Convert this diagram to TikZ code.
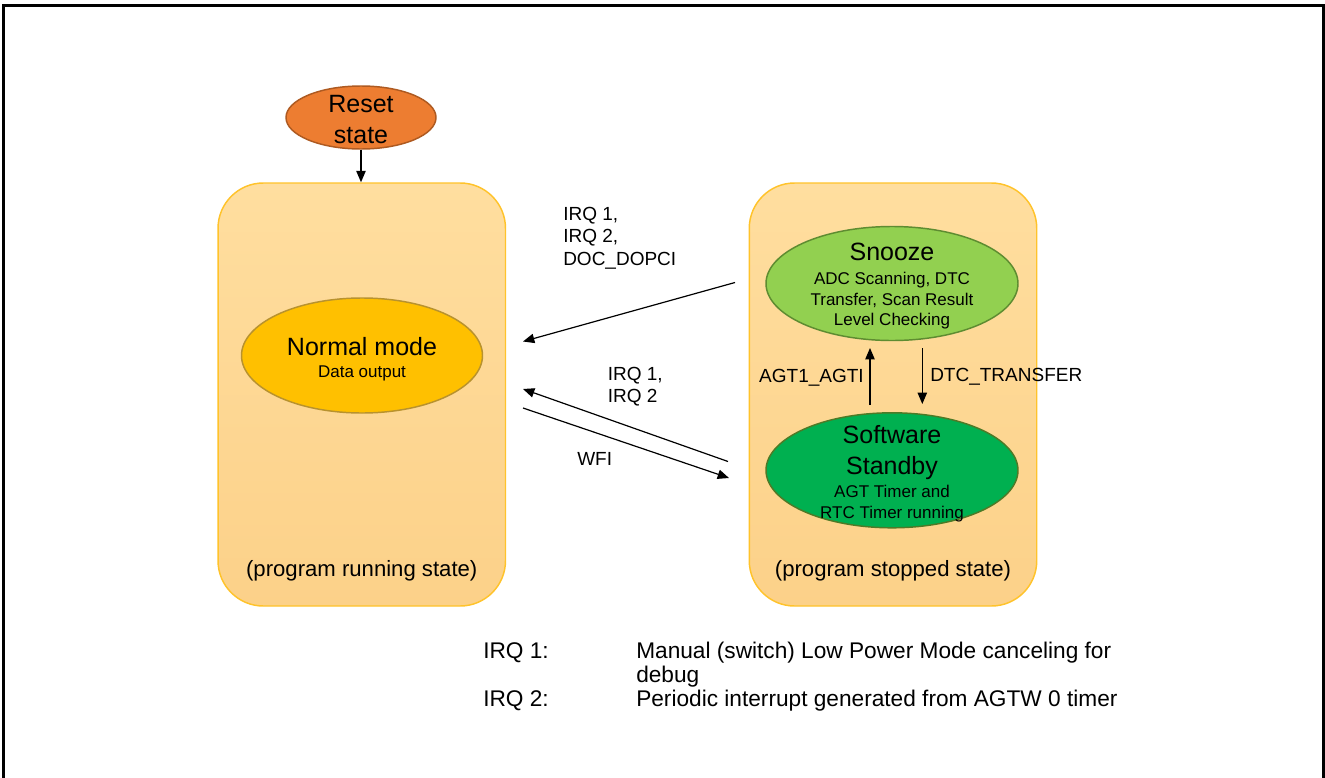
\documentclass[tikz,border=0pt]{standalone}
\usepackage{fontspec}
\setmainfont{Liberation Sans}
\usetikzlibrary{shapes.geometric,arrows.meta}
\definecolor{boxtop}{HTML}{FFDE9F}
\definecolor{boxbot}{HTML}{FCD189}
\definecolor{boxline}{HTML}{FFC32B}
\definecolor{resetfill}{HTML}{ED7D31}
\definecolor{resetline}{HTML}{AE5A21}
\definecolor{normfill}{HTML}{FFC000}
\definecolor{normline}{HTML}{B8922E}
\definecolor{snzfill}{HTML}{92D050}
\definecolor{snzline}{HTML}{5E8C31}
\definecolor{sbyfill}{HTML}{00B050}
\definecolor{sbyline}{HTML}{4E7A27}
\begin{document}
\begin{tikzpicture}[x=0.75pt,y=-0.75pt,
  statebox/.style={rectangle,rounded corners=34pt,minimum width=215.6pt,minimum height=317.25pt,inner sep=0pt,draw=boxline,line width=1.1pt,top color=boxtop,bottom color=boxbot},
  oval/.style={ellipse,inner sep=0pt,line width=1.1pt},
  txt/.style={inner sep=0pt,anchor=base},
  ttl/.style={txt,font=\fontsize{18.75pt}{23pt}\selectfont},
  sub/.style={txt,font=\fontsize{12.75pt}{15pt}\selectfont},
  lbl/.style={txt,font=\fontsize{14.25pt}{17pt}\selectfont},
  stt/.style={txt,font=\fontsize{16.6pt}{19pt}\selectfont},
  leg/.style={txt,anchor=base west,font=\fontsize{17pt}{19pt}\selectfont},
  arr/.style={-{Triangle[length=8.5pt,width=7pt]},line width=0.9pt,black}
]
\useasboundingbox (0,0) rectangle (1325,778);
\fill[white] (0,0) rectangle (1325,778);
\draw[line width=1.6pt] (3.5,778) -- (3.5,5.5) -- (1323.5,5.5) -- (1323.5,778);

% state containers
\node[statebox] (run) at (361.75,394.5) {};
\node[statebox] (stop) at (893,394.5) {};

% ellipses
\node[oval,fill=resetfill,draw=resetline,minimum width=112.5pt,minimum height=47.25pt] (reset) at (361,117.5) {};
\node[oval,fill=normfill,draw=normline,minimum width=180.75pt,minimum height=86.25pt] (normal) at (362,355.5) {};
\node[oval,fill=snzfill,draw=snzline,minimum width=189pt,minimum height=85.5pt] (snooze) at (892,283.5) {};
\node[oval,fill=sbyfill,draw=sbyline,minimum width=189pt,minimum height=86.25pt] (standby) at (892,470.3) {};

% texts in ellipses
\node[ttl] (resetA) at (361,112) {Reset};
\node[ttl] (resetB) at (361,143) {state};
\node[ttl] (normA) at (362,355.5) {Normal mode};
\node[sub] (normB) at (362,377.5) {Data output};
\node[ttl] (snzA) at (892,260.5) {Snooze};
\node[sub] (snzB) at (892,284.5) {ADC Scanning, DTC};
\node[sub] (snzC) at (892,305) {Transfer, Scan Result};
\node[sub] (snzD) at (892,325.5) {Level Checking};
\node[ttl] (sbyA) at (892,443) {Software};
\node[ttl] (sbyB) at (892,474) {Standby};
\node[sub] (sbyC) at (892,497) {AGT Timer and};
\node[sub] (sbyD) at (892,518) {RTC Timer running};

\node[stt] (runT) at (361.75,576) {(program running state)};
\node[stt] (stopT) at (893,576) {(program stopped state)};

% connector end points
\coordinate (a1s) at (735,282.5);
\coordinate (a1e) at (523,341.5);
\coordinate (a2s) at (728,461.5);
\coordinate (a2e) at (523,389);
\coordinate (a3s) at (523,408);
\coordinate (a3e) at (729,478);
\coordinate (agts) at (870,405);
\coordinate (agte) at (870,348);
\coordinate (dtcs) at (922.3,348);
\coordinate (dtce) at (922.3,404);

% connectors
\draw[arr] (reset.south) -- (reset.south |- run.north);
\draw[arr] (a1s) -- (a1e);
\draw[arr] (a2s) -- (a2e);
\draw[arr] (a3s) -- (a3e);
\draw[arr] (agts) -- (agte);
\draw[arr] (dtcs) -- (dtce);

% connector labels
\node[lbl,anchor=base west] (l1a) at (563,220) {IRQ 1,};
\node[lbl,anchor=base west] (l1b) at (563,242.5) {IRQ 2,};
\node[lbl,anchor=base west] (l1c) at (563,265) {DOC\_DOPCI};
\node[lbl,anchor=base west] (l2a) at (607.5,380) {IRQ 1,};
\node[lbl,anchor=base west] (l2b) at (607.5,402) {IRQ 2};
\node[lbl,anchor=base west] (l3) at (577,465) {WFI};
\node[lbl,anchor=base east] (lagt) at (864,382.5) {AGT1\_AGTI};
\node[lbl,anchor=base west] (ldtc) at (930,381.5) {DTC\_TRANSFER};

% legend
\node[leg] (g1) at (483,658) {IRQ 1:};
\node[leg] (g1t) at (636,658) {Manual (switch) Low Power Mode canceling for};
\node[leg] (g1u) at (636,682) {debug};
\node[leg] (g2) at (483,706) {IRQ 2:};
\node[leg] (g2t) at (636,706) {Periodic interrupt generated from AGTW 0 timer};
\end{tikzpicture}
\end{document}
